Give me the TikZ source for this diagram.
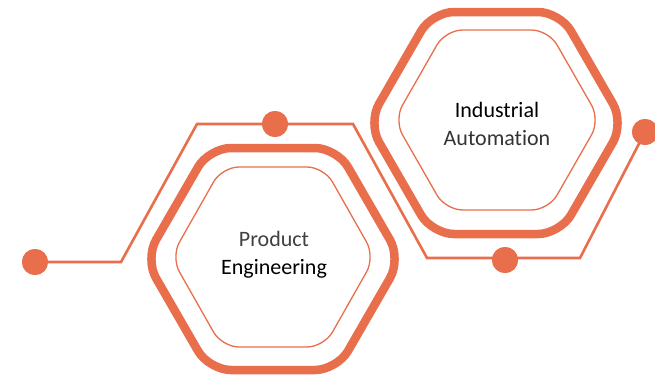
\documentclass[tikz,border=0pt]{standalone}
\usepackage{fontspec}
\setmainfont[Ligatures=NoCommon]{Carlito}
\definecolor{hexor}{RGB}{233,110,76}
\newcommand\hexagonpath[4]{(#1,#2-#4) -- (#1+#3/2,#2-#4) -- (#1+#3,#2) -- (#1+#3/2,#2+#4) -- (#1-#3/2,#2+#4) -- (#1-#3,#2) -- (#1-#3/2,#2-#4) -- cycle}
\tikzset{
  outerhex/.style={draw=hexor, line width=8.5pt, rounded corners=22pt},
  innerhex/.style={draw=hexor, line width=1.3pt, rounded corners=17pt},
  link/.style={draw=hexor, line width=2.6pt},
  dotnode/.style={circle, fill=hexor, minimum size=26pt, inner sep=0pt},
  lbl/.style={font=\fontsize{22}{26}\selectfont, anchor=base, inner sep=0pt}
}
\begin{document}
\begin{tikzpicture}[x=1pt,y=-1pt]
\useasboundingbox (0,0) rectangle (655,375);
% connector bends
\coordinate (b1) at (121,262);
\coordinate (b2) at (197,124);
\coordinate (b3) at (353,124);
\coordinate (b4) at (427,258);
\coordinate (b5) at (580,258);
% dots
\node[dotnode] (dL) at (35,262) {};
\node[dotnode] (dT) at (275,124) {};
\node[dotnode] (dB) at (505,260) {};
\node[dotnode] (dR) at (645,132) {};
\draw[link] (dL.center) -- (b1) -- (b2) -- (dT.center) -- (b3) -- (b4) -- (b5 -| dB.center) -- (b5) -- (dR.center);
% redraw dots on top
\node[dotnode] at (dL) {};
\node[dotnode] at (dT) {};
\node[dotnode] at (dB) {};
\node[dotnode] at (dR) {};
% hexagons
\draw[outerhex] \hexagonpath{273}{259}{128}{111};
\draw[innerhex] \hexagonpath{273}{257}{102}{90};
\draw[outerhex] \hexagonpath{496}{123}{128}{111};
\draw[innerhex] \hexagonpath{497}{120}{103}{90};
% labels
\node[lbl, text=black!75] (tProduct) at (274,246) {Product};
\node[lbl, text=black] (tEngineering) at (274,274) {Engineering};
\node[lbl, text=black] (tIndustrial) at (497,117) {Industrial};
\node[lbl, text=black!80] (tAutomation) at (497,145) {Automation};
\end{tikzpicture}
\end{document}
